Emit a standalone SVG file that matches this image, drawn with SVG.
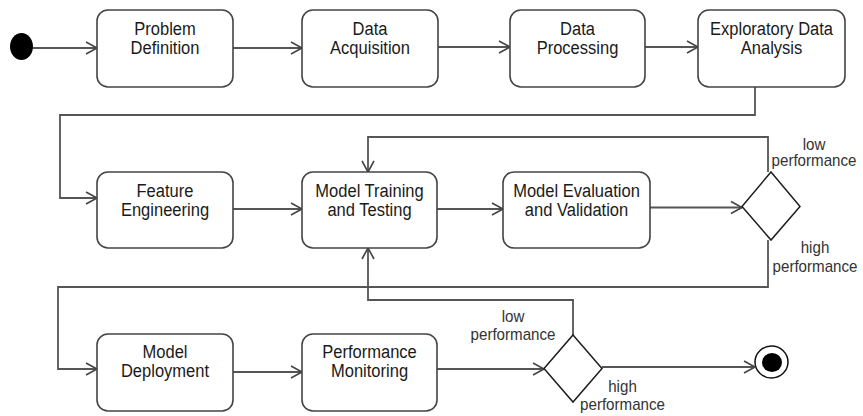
<svg xmlns="http://www.w3.org/2000/svg" width="863" height="416" viewBox="0 0 863 416">
  <style>
    .box { fill: #ffffff; stroke: #444444; stroke-width: 1.6; }
    .dec { fill: #ffffff; stroke: #1e1e1e; stroke-width: 1.5; }
    .flow { fill: none; stroke: #555555; stroke-width: 1.8; marker-end: url(#open); }
    .lbl { font-family: "Liberation Sans", Arial, sans-serif; font-size: 19px; fill: #1a1a1a; text-anchor: middle; }
    .guard { font-family: "Liberation Sans", Arial, sans-serif; font-size: 17px; fill: #333333; text-anchor: middle; }
  </style>
  <defs>
    <marker id="open" markerUnits="userSpaceOnUse" markerWidth="14" markerHeight="16" viewBox="0 0 14 16" refX="12" refY="8" orient="auto">
      <path d="M1,2 L12,8 L1,14" fill="none" stroke="#444444" stroke-width="1.6"/>
    </marker>
  </defs>

  <!-- start / end markers -->
  <g id="start">
    <ellipse cx="21.5" cy="46.5" rx="11.5" ry="13.5" fill="#000000"/>
  </g>
  <g id="end">
    <ellipse cx="771.5" cy="362" rx="16.5" ry="16" fill="#ffffff" stroke="#111111" stroke-width="1.5"/>
    <ellipse cx="772" cy="362.5" rx="10" ry="9.5" fill="#000000"/>
  </g>

  <!-- connectors -->
  <g id="connectors">
    <path class="flow" d="M33,48 H97"/>
    <path class="flow" d="M233,48 H302"/>
    <path class="flow" d="M438,47 H510"/>
    <path class="flow" d="M645,47 H698"/>
    <path class="flow" d="M755,87 V115 H60 V198 H97"/>
    <path class="flow" d="M233,209 H302"/>
    <path class="flow" d="M437,209 H503"/>
    <path class="flow" d="M650,207.5 H742"/>
    <path class="flow" d="M768,172 V137 H368 V172"/>
    <path class="flow" d="M768,240 V287 H58 V369 H97"/>
    <path class="flow" d="M233,372 H302"/>
    <path class="flow" d="M437,369 H544"/>
    <path class="flow" d="M573,335 V300 H368 V248"/>
    <path class="flow" d="M602,367 H755"/>
  </g>

  <!-- activities -->
  <g id="problem-definition">
    <rect class="box" x="97" y="10" width="136" height="77" rx="11"/>
    <text class="lbl" transform="translate(165,0) scale(0.87,1)"><tspan x="0" y="35">Problem</tspan><tspan x="0" y="54">Definition</tspan></text>
  </g>
  <g id="data-acquisition">
    <rect class="box" x="302" y="10" width="136" height="77" rx="11"/>
    <text class="lbl" transform="translate(370,0) scale(0.87,1)"><tspan x="0" y="35">Data</tspan><tspan x="0" y="54">Acquisition</tspan></text>
  </g>
  <g id="data-processing">
    <rect class="box" x="510" y="10" width="135" height="77" rx="11"/>
    <text class="lbl" transform="translate(577.5,0) scale(0.87,1)"><tspan x="0" y="35">Data</tspan><tspan x="0" y="54">Processing</tspan></text>
  </g>
  <g id="exploratory-data-analysis">
    <rect class="box" x="698" y="10" width="147" height="77" rx="11"/>
    <text class="lbl" transform="translate(771.5,0) scale(0.87,1)"><tspan x="0" y="35">Exploratory Data</tspan><tspan x="0" y="54">Analysis</tspan></text>
  </g>
  <g id="feature-engineering">
    <rect class="box" x="97" y="172" width="136" height="76" rx="11"/>
    <text class="lbl" transform="translate(165,0) scale(0.87,1)"><tspan x="0" y="197">Feature</tspan><tspan x="0" y="216">Engineering</tspan></text>
  </g>
  <g id="model-training">
    <rect class="box" x="302" y="172" width="135" height="76" rx="11"/>
    <text class="lbl" transform="translate(369.5,0) scale(0.87,1)"><tspan x="0" y="197">Model Training</tspan><tspan x="0" y="216">and Testing</tspan></text>
  </g>
  <g id="model-evaluation">
    <rect class="box" x="503" y="172" width="147" height="76" rx="11"/>
    <text class="lbl" transform="translate(576.5,0) scale(0.87,1)"><tspan x="0" y="197">Model Evaluation</tspan><tspan x="0" y="216">and Validation</tspan></text>
  </g>
  <g id="model-deployment">
    <rect class="box" x="97" y="334" width="136" height="77" rx="11"/>
    <text class="lbl" transform="translate(165,0) scale(0.87,1)"><tspan x="0" y="358">Model</tspan><tspan x="0" y="377">Deployment</tspan></text>
  </g>
  <g id="performance-monitoring">
    <rect class="box" x="302" y="334" width="135" height="77" rx="11"/>
    <text class="lbl" transform="translate(369.5,0) scale(0.87,1)"><tspan x="0" y="358">Performance</tspan><tspan x="0" y="377">Monitoring</tspan></text>
  </g>

  <!-- decisions -->
  <g id="evaluation-decision">
    <polygon class="dec" points="771,172 800,206.5 771,240 742,206.5"/>
    <text class="guard" transform="translate(814,0) scale(0.89,1)"><tspan x="0" y="150">low</tspan><tspan x="0" y="166">performance</tspan></text>
    <text class="guard" transform="translate(815,0) scale(0.89,1)"><tspan x="0" y="253">high</tspan><tspan x="0" y="272">performance</tspan></text>
  </g>
  <g id="monitoring-decision">
    <polygon class="dec" points="573,335 602,368.5 573,402 544,368.5"/>
    <text class="guard" transform="translate(513,0) scale(0.89,1)"><tspan x="0" y="322">low</tspan><tspan x="0" y="340">performance</tspan></text>
    <text class="guard" transform="translate(622.5,0) scale(0.89,1)"><tspan x="0" y="392">high</tspan><tspan x="0" y="410">performance</tspan></text>
  </g>
</svg>
